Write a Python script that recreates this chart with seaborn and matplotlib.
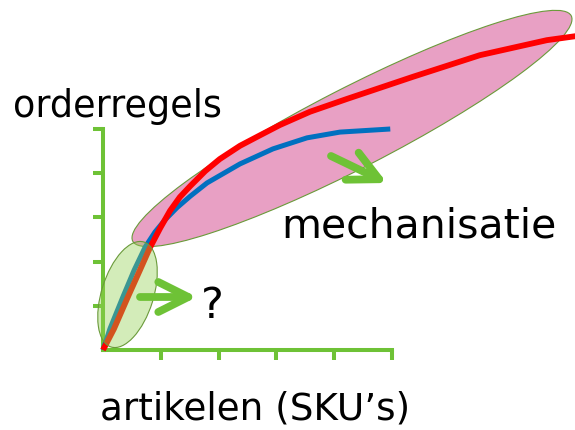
import matplotlib
matplotlib.use("Agg")
import matplotlib.pyplot as plt
from matplotlib.patches import Ellipse
from matplotlib.transforms import Affine2D
import seaborn as sns
import pandas as pd

# ---- data (axis units = tick steps) ----
red_x = [0, 0.19, 0.43, 0.64, 0.81, 0.99, 1.16, 1.33, 1.51, 1.77, 2.02, 2.37, 2.72,
         3.06, 3.58, 4.22, 5.36, 6.52, 7.68, 8.34]
red_y = [0, 0.48, 1.20, 1.81, 2.31, 2.76, 3.15, 3.46, 3.71, 4.05, 4.32, 4.62, 4.86,
         5.09, 5.39, 5.68, 6.18, 6.67, 7.01, 7.13]
blue_x = [0, 0.12, 0.35, 0.54, 0.73, 0.90, 1.07, 1.28, 1.51, 1.80, 2.37, 2.94, 3.53, 4.10, 4.97]
blue_y = [0, 0.48, 1.22, 1.81, 2.33, 2.67, 2.94, 3.22, 3.48, 3.78, 4.21, 4.55, 4.80, 4.93, 5.00]
tick_positions = [1, 2, 3, 4, 5]
x_label = "artikelen (SKU’s)"
y_label = "orderregels"
label_mech = "mechanisatie"
label_q = "?"

# ---- styling ----
GREEN = "#6EC236"
RED = "#FF0000"
BLUE = "#0070C0"
PINK = "#E8A0C4"
LGREEN = "#92D050"
EDGE = "#6A9A3A"
PX_X, PX_Y = 57.8, 44.2   # pixels per axis unit

sns.set_style("white")
plt.rcParams["font.family"] = ["DejaVu Sans"]

fig = plt.figure(figsize=(5.75, 4.31), dpi=100)
ax = fig.add_axes([0, 0, 1, 1])
ax.set_xlim(-103 / PX_X, 472 / PX_X)
ax.set_ylim(-80 / PX_Y, 351 / PX_Y)

px = Affine2D().scale(1 / PX_X, 1 / PX_Y) + ax.transData

# pink ellipse (mechanisation area)
ax.add_patch(Ellipse((249, 221.5), 493, 80, angle=27.2, transform=px,
                     facecolor=PINK, edgecolor=EDGE, linewidth=0.8, zorder=1))

df_red = pd.DataFrame({"x": red_x, "y": red_y})
df_blue = pd.DataFrame({"x": blue_x, "y": blue_y})
sns.lineplot(data=df_blue, x="x", y="y", sort=False, estimator=None, color=BLUE,
             linewidth=3.6, ax=ax, zorder=3, solid_joinstyle="round", solid_capstyle="butt")
sns.lineplot(data=df_red, x="x", y="y", sort=False, estimator=None, color=RED,
             linewidth=4.2, ax=ax, zorder=3.1, solid_joinstyle="round", solid_capstyle="butt")

# green ellipse (manual area), translucent over the curves
ax.add_patch(Ellipse((24.5, 55.5), 110, 52, angle=72.6, transform=px,
                     facecolor=LGREEN, alpha=0.4, edgecolor="none", zorder=4))
ax.add_patch(Ellipse((24.5, 55.5), 110, 52, angle=72.6, transform=px,
                     facecolor="none", edgecolor=EDGE, linewidth=0.8, zorder=4))

# axes: spines through origin
for s in ["top", "right"]:
    ax.spines[s].set_visible(False)
for s in ["left", "bottom"]:
    ax.spines[s].set_color(GREEN)
    ax.spines[s].set_linewidth(2.9)
    ax.spines[s].set_position(("data", 0))
    ax.spines[s].set_bounds(0, 5)
    ax.spines[s].set_zorder(2.5)
ax.set_xticks(tick_positions)
ax.set_yticks(tick_positions)
ax.tick_params(bottom=True, left=True, direction="out", length=7.3, width=2.9,
               color=GREEN, labelbottom=False, labelleft=False)
ax.set_xlabel("")
ax.set_ylabel("")
ax.grid(False)

# arrows
arrow_kw = dict(arrowstyle="->,head_length=1.08,head_width=0.54", color=GREEN,
                lw=5.6, shrinkA=0, shrinkB=0, mutation_scale=20,
                capstyle="round", joinstyle="round")
ax.annotate("", xy=((197 - 103) / PX_X, (351 - 298) / PX_Y),
            xytext=((140 - 103) / PX_X, (351 - 298) / PX_Y),
            arrowprops=arrow_kw, zorder=5)
ax.annotate("", xy=((387 - 103) / PX_X, (351 - 184) / PX_Y),
            xytext=((331 - 103) / PX_X, (351 - 157) / PX_Y),
            arrowprops=arrow_kw, zorder=5)

# texts
ax.text((13 - 103) / PX_X, (351 - 117) / PX_Y, y_label, fontsize=26.3,
        ha="left", va="baseline", color="black")
ax.text((100 - 103) / PX_X, (351 - 420) / PX_Y, x_label, fontsize=26.8,
        ha="left", va="baseline", color="black")
ax.text((281 - 103) / PX_X, (351 - 238) / PX_Y, label_mech, fontsize=29.5,
        ha="left", va="baseline", color="black")
ax.text((201 - 103) / PX_X, (351 - 318) / PX_Y, label_q, fontsize=31,
        ha="left", va="baseline", color="black")

fig.savefig("out.png", dpi=100, facecolor="white")
